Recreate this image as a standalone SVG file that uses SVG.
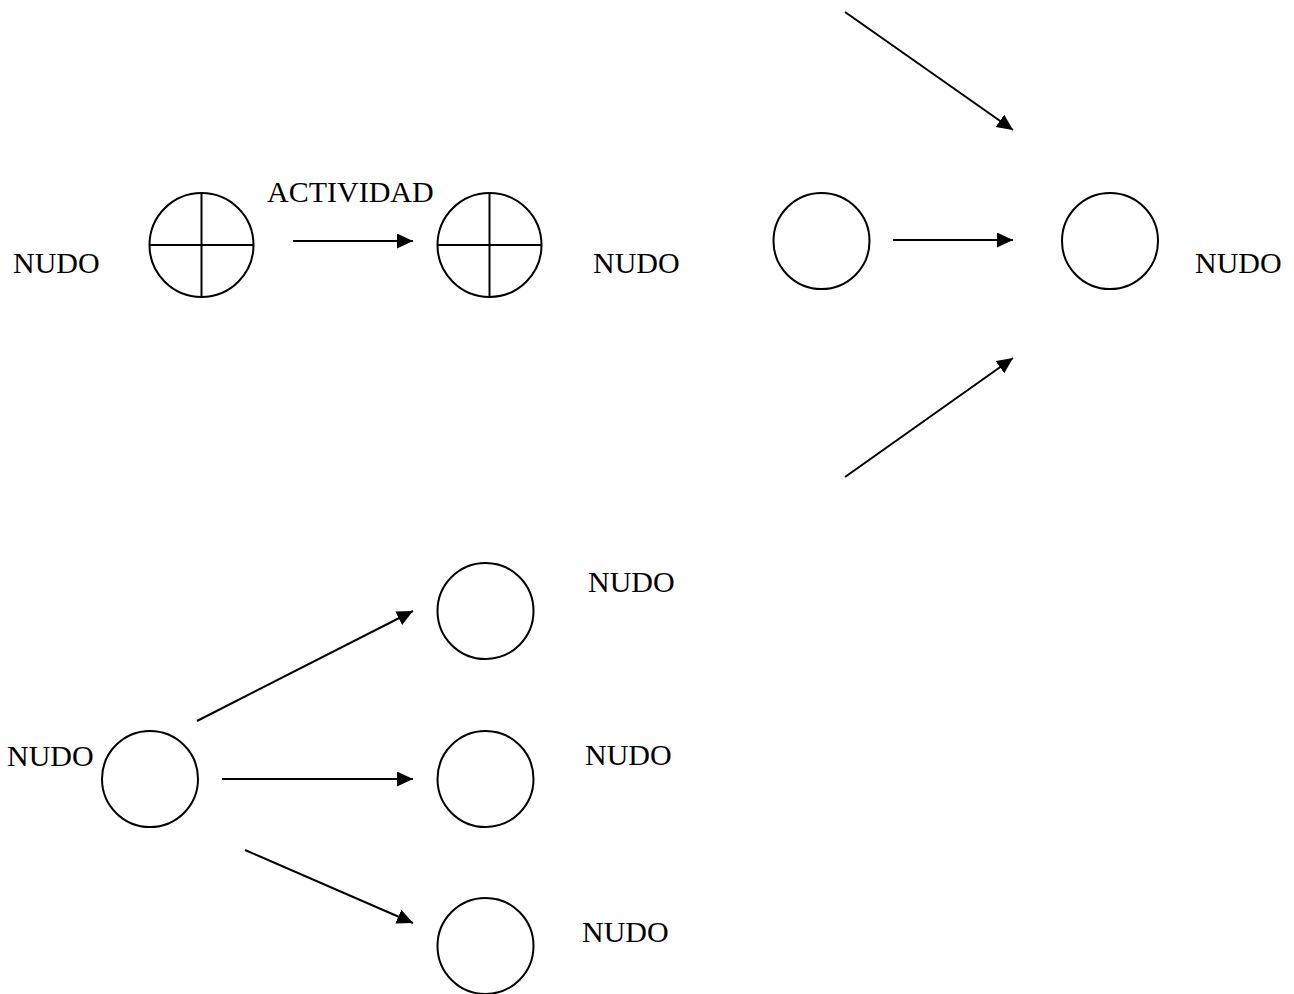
<svg xmlns="http://www.w3.org/2000/svg" width="1294" height="994" viewBox="0 0 1294 994">
<defs>
<marker id="ah" markerUnits="userSpaceOnUse" markerWidth="18" markerHeight="16" refX="16" refY="7.5" orient="auto">
<path d="M0,0 L16,7.5 L0,15 z" fill="#000"/>
</marker>
<style>
.n{fill:#fff;stroke:#000;stroke-width:2}
.x{stroke:#000;stroke-width:2}
.c{stroke:#000;stroke-width:2;fill:none;marker-end:url(#ah)}
text{font-family:"Liberation Serif","Times New Roman",serif;font-size:30px;fill:#000}
</style>
</defs>
<rect width="1294" height="994" fill="#fff"/>
<g id="n1"><circle class="n" cx="201.5" cy="245" r="52"/><line class="x" x1="149.5" y1="245" x2="253.5" y2="245"/><line class="x" x1="201.5" y1="193" x2="201.5" y2="297"/></g>
<g id="n2"><circle class="n" cx="489.5" cy="245" r="52"/><line class="x" x1="437.5" y1="245" x2="541.5" y2="245"/><line class="x" x1="489.5" y1="193" x2="489.5" y2="297"/></g>
<g id="n3"><circle class="n" cx="821.5" cy="241" r="48"/></g>
<g id="n4"><circle class="n" cx="1110" cy="241" r="48"/></g>
<g id="n5"><circle class="n" cx="150" cy="779" r="48"/></g>
<g id="n6"><circle class="n" cx="485.5" cy="611" r="48"/></g>
<g id="n7"><circle class="n" cx="485.5" cy="779" r="48"/></g>
<g id="n8"><circle class="n" cx="485.5" cy="946" r="48"/></g>
<g id="connectors">
<line class="c" x1="293" y1="241" x2="413" y2="241"/>
<line class="c" x1="893" y1="240" x2="1013" y2="240"/>
<line class="c" x1="845" y1="12" x2="1013" y2="130"/>
<line class="c" x1="845" y1="477" x2="1013" y2="358"/>
<line class="c" x1="197" y1="721" x2="413" y2="611"/>
<line class="c" x1="222" y1="779" x2="413" y2="779"/>
<line class="c" x1="245" y1="850" x2="413" y2="923"/>
</g>
<g id="labels">
<text x="267" y="202">ACTIVIDAD</text>
<text x="13" y="273">NUDO</text>
<text x="593" y="273">NUDO</text>
<text x="1195" y="273">NUDO</text>
<text x="588" y="592">NUDO</text>
<text x="7" y="766">NUDO</text>
<text x="585" y="765">NUDO</text>
<text x="582" y="942">NUDO</text>
</g>
</svg>
